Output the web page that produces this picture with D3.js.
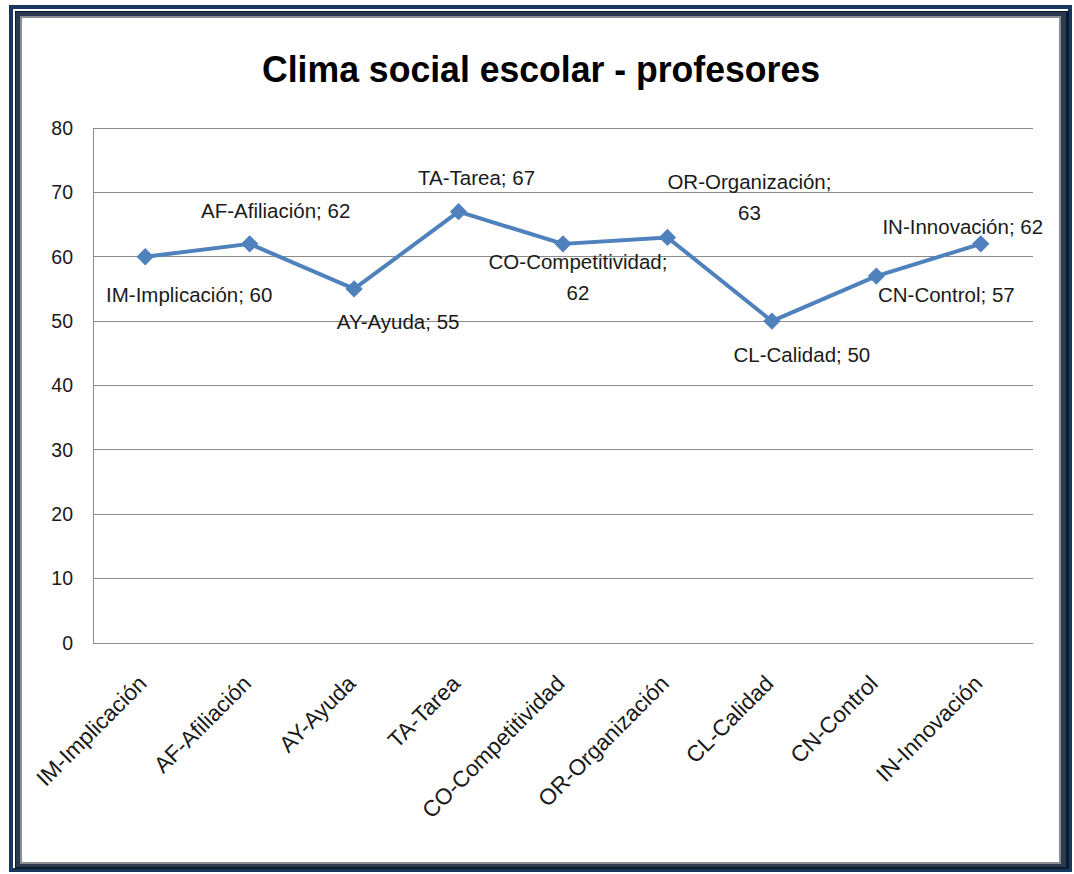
<!DOCTYPE html>
<html><head><meta charset="utf-8">
<script src="https://cdn.jsdelivr.net/npm/d3@7"></script>
<style>body{margin:0;background:#fff}svg{display:block}</style>
</head><body>
<script>
const categories = ["IM-Implicación","AF-Afiliación","AY-Ayuda","TA-Tarea","CO-Competitividad","OR-Organización","CL-Calidad","CN-Control","IN-Innovación"];
const values = [60,62,55,67,62,63,50,57,62];
const yTicks = [0,10,20,30,40,50,60,70,80];
const title = "Clima social escolar - profesores";
// data label placement (offset of label center from point, px) and line breaks
const labelDx = [44,26,44,18,15,82,30,70,-18];
const labelDy = [40,-31,35,-32,22,-51,35,21,-15];
const labelBreak = [false,false,false,false,true,true,false,false,false];

const W=1074,H=874;
const svg=d3.select("body").append("svg").attr("width",W).attr("height",H);
const font="'Liberation Sans', Arial, sans-serif";

// frame
svg.append("rect").attr("x",9).attr("y",5).attr("width",1063).attr("height",867).attr("fill","#17375e");
svg.append("rect").attr("x",14).attr("y",10).attr("width",1055).attr("height",859).attr("fill","#0d1a2b");
svg.append("path").attr("d","M14,868 L14,10 L1068,10").attr("fill","none").attr("stroke","#fff").attr("stroke-width",2);
svg.append("rect").attr("x",16).attr("y",12).attr("width",1050).attr("height",855).attr("fill","#2b3a4f");
svg.append("rect").attr("x",20).attr("y",16).attr("width",1041).attr("height",848).attr("fill","#8a8d91");
svg.append("rect").attr("x",22).attr("y",18).attr("width",1037).attr("height",844).attr("fill","#fff");

const m={l:93,r:1033,t:128,b:643};
const x=d3.scaleBand().domain(categories).range([m.l,m.r]);
const y=d3.scaleLinear().domain([0,80]).range([m.b,m.t]);

// title
svg.append("text").attr("x",541).attr("y",82).attr("text-anchor","middle")
 .attr("font-family",font).attr("font-weight","bold").attr("font-size",36)
 .attr("textLength",558).attr("lengthAdjust","spacingAndGlyphs").attr("fill","#000").text(title);

// gridlines
const g=svg.append("g");
g.selectAll("line.grid").data(yTicks).join("line")
 .attr("x1",m.l).attr("x2",m.r).attr("y1",d=>y(d)).attr("y2",d=>y(d))
 .attr("stroke","#8c8c8c").attr("stroke-width",1).attr("shape-rendering","crispEdges");
g.append("line").attr("x1",m.l).attr("x2",m.l).attr("y1",m.t).attr("y2",m.b)
 .attr("stroke","#8c8c8c").attr("shape-rendering","crispEdges");

// y axis labels
const yAxis=d3.axisLeft(y).tickValues(yTicks).tickSize(0).tickPadding(20);
const ya=svg.append("g").attr("transform",`translate(${m.l},0)`).call(yAxis);
ya.select(".domain").remove();
ya.selectAll("text").attr("font-family",font).attr("font-size",19.5).attr("fill","#1a1a1a");

// x axis labels
const xAxis=d3.axisBottom(x).tickSize(0).tickPadding(0);
const xa=svg.append("g").attr("transform",`translate(0,${m.b})`).call(xAxis);
xa.select(".domain").remove();
xa.selectAll("text").attr("font-family",font).attr("font-size",22.5).attr("fill","#1a1a1a")
 .attr("text-anchor","end").attr("dy",0).attr("y",0)
 .attr("transform","translate(3,42) rotate(-45)");

// line
const line=d3.line().x((d,i)=>x(categories[i])+x.bandwidth()/2).y(d=>y(d));
svg.append("path").datum(values).attr("d",line).attr("fill","none")
 .attr("stroke","#4f81bd").attr("stroke-width",4).attr("stroke-linejoin","round");
svg.selectAll("path.mk").data(values).join("path")
 .attr("d",d3.symbol(d3.symbolSquare,150))
 .attr("transform",(d,i)=>`translate(${x(categories[i])+x.bandwidth()/2},${y(d)}) rotate(45)`)
 .attr("fill","#4f81bd");

// data labels
values.forEach((v,i)=>{
  const cx=x(categories[i])+x.bandwidth()/2+labelDx[i];
  const cy=y(v)+labelDy[i];
  const t=svg.append("text").attr("x",cx).attr("y",cy).attr("text-anchor","middle")
   .attr("dominant-baseline","middle").attr("font-family",font).attr("font-size",20.5).attr("fill","#1a1a1a");
  if(labelBreak[i]){
    t.append("tspan").attr("x",cx).attr("dy","-0.1em").text(categories[i]+";");
    t.append("tspan").attr("x",cx).attr("dy",31).text(v);
  } else t.text(categories[i]+"; "+v);
});
</script>
</body></html>
